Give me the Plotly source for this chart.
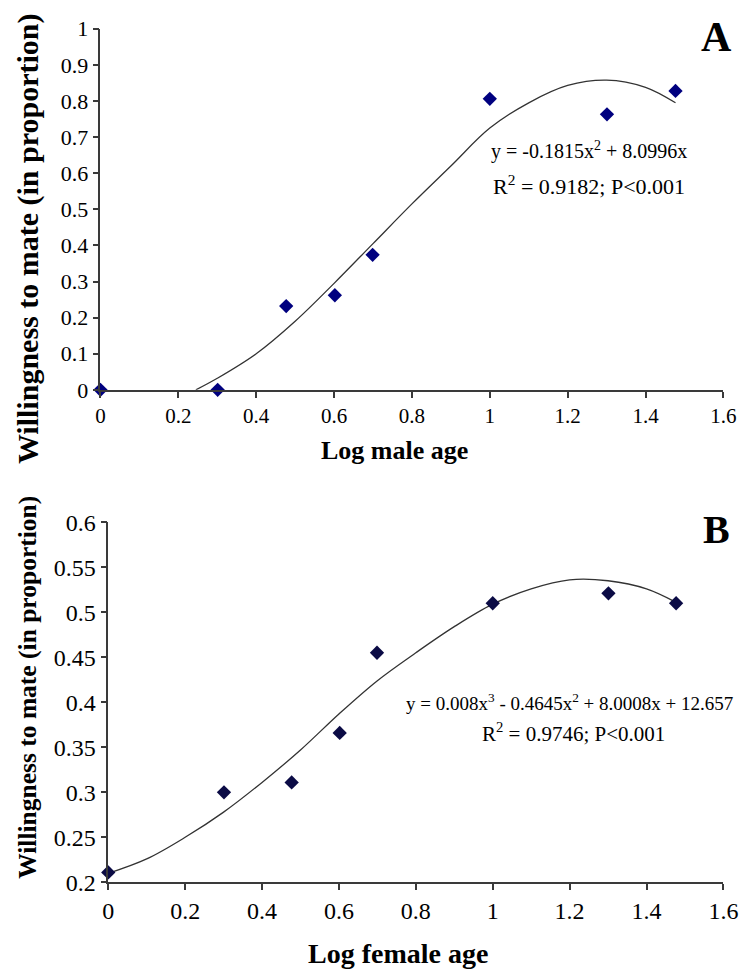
import plotly.graph_objects as go

# ---- Data: panel A (male) ----
male_x = [0.0, 0.301, 0.477, 0.602, 0.699, 1.0, 1.301, 1.477]
male_y = [0.0, 0.0, 0.232, 0.262, 0.374, 0.806, 0.763, 0.828]
male_fit_x = [0.245, 0.3, 0.4, 0.5, 0.6, 0.7, 0.8, 0.9, 1.0, 1.1, 1.2, 1.3, 1.4, 1.477]
male_fit_y = [0.0, 0.032, 0.10, 0.19, 0.295, 0.405, 0.515, 0.62, 0.725, 0.795, 0.843, 0.858, 0.838, 0.795]

# ---- Data: panel B (female) ----
female_x = [0.0, 0.301, 0.477, 0.602, 0.699, 1.0, 1.301, 1.477]
female_y = [0.211, 0.300, 0.311, 0.366, 0.455, 0.510, 0.521, 0.510]
female_fit_x = [0.0, 0.1, 0.2, 0.3, 0.4, 0.5, 0.6, 0.7, 0.8, 0.9, 1.0, 1.1, 1.2, 1.3, 1.4, 1.477]
female_fit_y = [0.210, 0.226, 0.250, 0.278, 0.311, 0.347, 0.387, 0.424, 0.455, 0.484, 0.509, 0.526, 0.536, 0.535, 0.526, 0.511]

x_ticks = [0, 0.2, 0.4, 0.6, 0.8, 1, 1.2, 1.4, 1.6]
x_tick_text = ["0", "0.2", "0.4", "0.6", "0.8", "1", "1.2", "1.4", "1.6"]
yA_ticks = [0, 0.1, 0.2, 0.3, 0.4, 0.5, 0.6, 0.7, 0.8, 0.9, 1]
yA_tick_text = ["0", "0.1", "0.2", "0.3", "0.4", "0.5", "0.6", "0.7", "0.8", "0.9", "1"]
yB_ticks = [0.2, 0.25, 0.3, 0.35, 0.4, 0.45, 0.5, 0.55, 0.6]
yB_tick_text = ["0.2", "0.25", "0.3", "0.35", "0.4", "0.45", "0.5", "0.55", "0.6"]

W, H = 744, 972
FONT = "Times New Roman"
AX = "#3a3a3a"

# figure coordinates (pixels from top-left of the figure)
def X(f):
    return f / W

def Y(f):
    return 1 - f / H

fig = go.Figure()

fig.add_trace(go.Scatter(x=male_fit_x, y=male_fit_y, mode="lines",
                         line=dict(color="#333333", width=1.3, shape="spline", smoothing=1.0),
                         xaxis="x", yaxis="y", hoverinfo="skip", cliponaxis=False))
fig.add_trace(go.Scatter(x=male_x, y=male_y, mode="markers",
                         marker=dict(symbol="diamond", size=11, color="#00007f"),
                         xaxis="x", yaxis="y", cliponaxis=False))
fig.add_trace(go.Scatter(x=female_fit_x, y=female_fit_y, mode="lines",
                         line=dict(color="#333333", width=1.3, shape="spline", smoothing=1.0),
                         xaxis="x2", yaxis="y2", hoverinfo="skip", cliponaxis=False))
fig.add_trace(go.Scatter(x=female_x, y=female_y, mode="markers",
                         marker=dict(symbol="diamond", size=11, color="#0b0b45"),
                         xaxis="x2", yaxis="y2", cliponaxis=False))

common = dict(showgrid=False, zeroline=False, showline=True, linecolor=AX, linewidth=1.5,
              ticks="outside", ticklen=6, tickwidth=1.5, tickcolor=AX)

fig.update_layout(
    width=W, height=H,
    margin=dict(l=0, r=0, t=0, b=0),
    paper_bgcolor="white", plot_bgcolor="white",
    showlegend=False,
    font=dict(family=FONT, color="black"),
    xaxis=dict(domain=[X(89), X(730)], range=[0, 1.6], tickvals=x_ticks, ticktext=x_tick_text,
               tickfont=dict(size=21, family=FONT, color="black"), anchor="y", **common),
    yaxis=dict(domain=[Y(379), Y(8)], range=[0, 1], tickvals=yA_ticks, ticktext=yA_tick_text,
               tickfont=dict(size=22, family=FONT, color="black"), anchor="x", **common),
    xaxis2=dict(domain=[X(97), X(730)], range=[0, 1.6], tickvals=x_ticks, ticktext=x_tick_text,
                tickfont=dict(size=24, family=FONT, color="black"), anchor="y2", **common),
    yaxis2=dict(domain=[Y(885), Y(515)], range=[0.2, 0.6], tickvals=yB_ticks, ticktext=yB_tick_text,
                tickfont=dict(size=24, family=FONT, color="black"), anchor="x2", **common),
)

ann = []
def A(text, x, y, size, bold=False, angle=0):
    t = f"<b>{text}</b>" if bold else text
    ann.append(dict(text=t, x=X(x), y=Y(y), xref="paper", yref="paper", showarrow=False,
                    textangle=angle, xanchor="center", yanchor="middle",
                    font=dict(family=FONT, size=size, color="black")))

A("Willingness to mate (in proportion)", 14.5, 224, 30, bold=True, angle=-90)
A("Willingness to mate (in proportion)", 14.5, 685, 25.5, bold=True, angle=-90)
A("Log male age", 392, 441, 26, bold=True)
A("Log female age", 395, 958, 28, bold=True)
A("A", 723, 16, 42, bold=True)
A("B", 723, 522, 40, bold=True)
A("y = -0.1815x<sup>2</sup> + 8.0996x", 592, 133, 20)
A("R<sup>2</sup> = 0.9182; P<0.001", 592, 168, 22)
A("y = 0.008x<sup>3</sup> - 0.4645x<sup>2</sup> + 8.0008x + 12.657", 572, 700, 19)
A("R<sup>2</sup> = 0.9746; P<0.001", 576, 731, 21)
fig.update_layout(annotations=ann)

fig.write_html("out.html")
